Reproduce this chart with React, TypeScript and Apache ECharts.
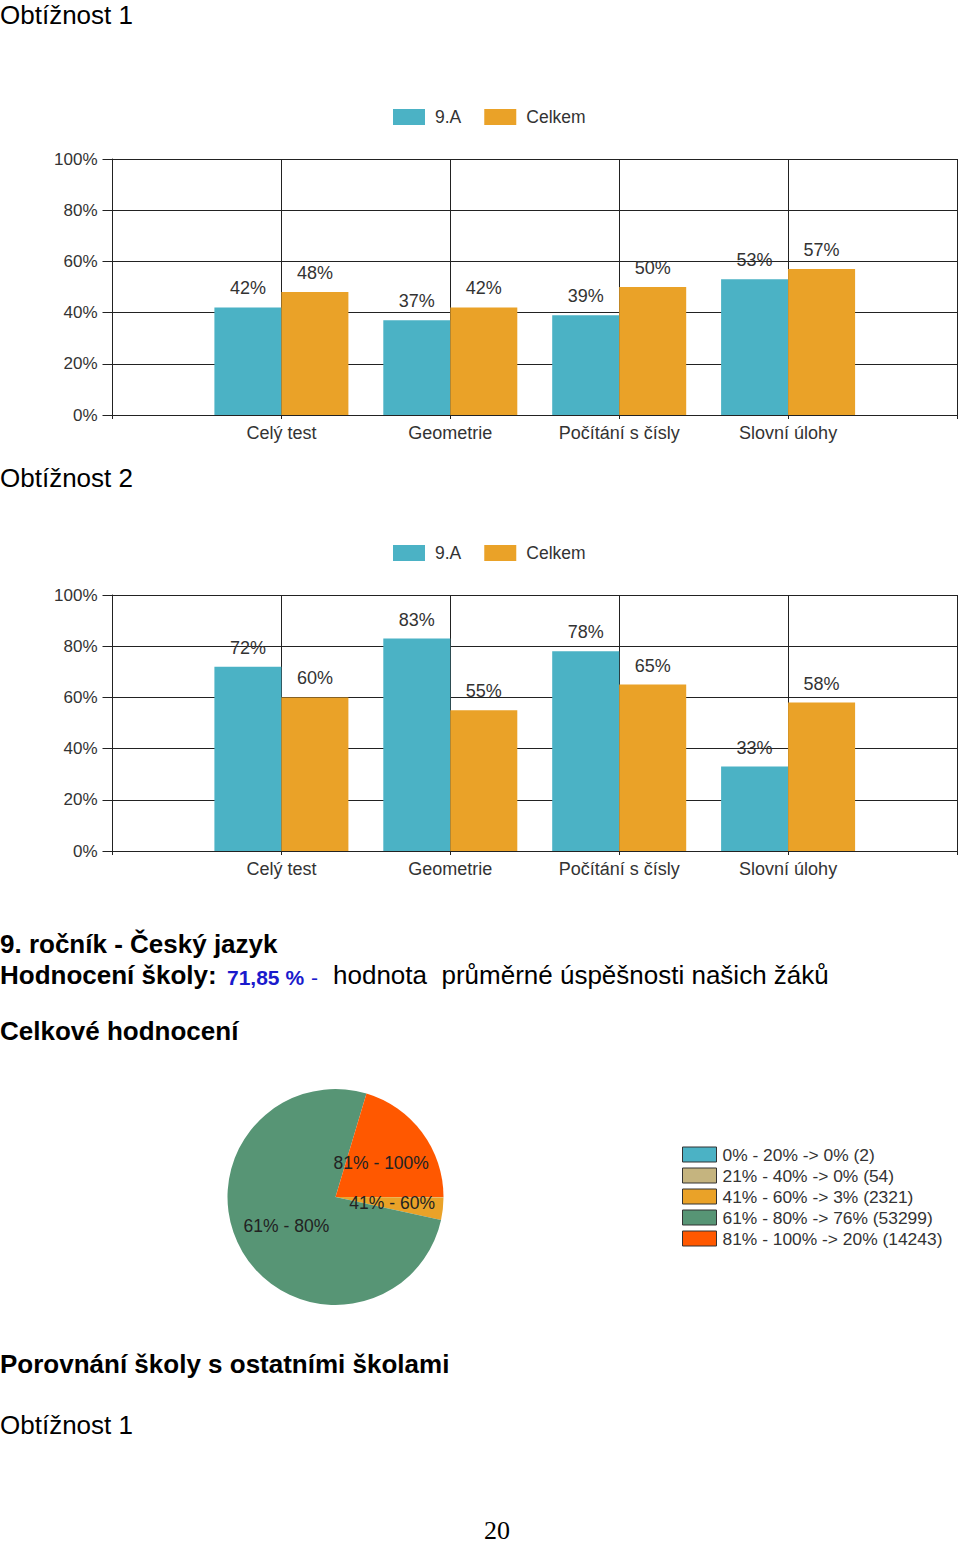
import React, { useEffect, useRef } from "react";
import * as echarts from "echarts";

// ---- data ----
const categories = ["", "Celý test", "Geometrie", "Počítání s čísly", "Slovní úlohy", ""];
const seriesNames = ["9.A", "Celkem"];
const diff1Class = ["-", 42, 37, 39, 53, "-"];
const diff1Total = ["-", 48, 42, 50, 57, "-"];
const diff2Class = ["-", 72, 83, 78, 33, "-"];
const diff2Total = ["-", 60, 55, 65, 58, "-"];
const pieNames = ["0% - 20%", "21% - 40%", "41% - 60%", "61% - 80%", "81% - 100%"];
const pieCounts = [2, 54, 2321, 53299, 14243];
const barColors = ["#4BB2C5", "#EAA228"];
const pieColors = ["#4BB2C5", "#C5B47F", "#EAA228", "#579575", "#FF5800"];
const schoolScore = "71,85 %";

const FONT = "'Liberation Sans', Arial, Helvetica, sans-serif";
const SERIF = "'Liberation Serif', 'Times New Roman', serif";
const LINE = "#222";
const TXT = "#333";

function buildOption() {
  const total = pieCounts.reduce((a, b) => a + b, 0);
  const pct = (v: number) => Math.round((v / total) * 100);
  const gridTops = [159, 595];
  const legendTops = [108, 544];

  const grid = gridTops.map((top) => ({ left: 112.5, top, width: 845, height: 256 }));
  const xAxis = gridTops.map((_, i) => ({
    type: "category",
    gridIndex: i,
    data: categories,
    boundaryGap: false,
    axisLine: { lineStyle: { color: LINE, width: 1 } },
    axisTick: { show: true, length: 4, lineStyle: { color: LINE } },
    axisLabel: { interval: 0, fontSize: 18, color: TXT, margin: 9, fontFamily: FONT },
    splitLine: { show: true, lineStyle: { color: LINE, width: 1 } },
  }));
  const yAxis = gridTops.map((_, i) => ({
    type: "value",
    gridIndex: i,
    min: 0,
    max: 100,
    interval: 20,
    axisLine: { show: true, lineStyle: { color: LINE } },
    axisTick: { show: true, length: 10, lineStyle: { color: LINE } },
    axisLabel: { formatter: "{value}%", fontSize: 17, color: TXT, margin: 15, fontFamily: FONT },
    splitLine: { show: true, lineStyle: { color: LINE, width: 1 } },
  }));

  const bar = (gi: number, idx: number, data: any[]) => ({
    type: "bar",
    name: seriesNames[idx],
    xAxisIndex: gi,
    yAxisIndex: gi,
    data,
    barWidth: 67,
    barGap: "0%",
    itemStyle: { color: barColors[idx] },
    label: {
      show: true,
      position: "top",
      distance: 10,
      formatter: "{c}%",
      fontSize: 18,
      color: TXT,
      fontFamily: FONT,
    },
  });

  const barLegend = (top: number) => ({
    top,
    left: 393,
    padding: 0,
    data: seriesNames,
    icon: "rect",
    itemWidth: 32,
    itemHeight: 16,
    itemGap: 23,
    selectedMode: false,
    textStyle: { fontSize: 17.5, color: TXT, fontFamily: FONT, padding: [0, 0, 0, 5] },
  });

  const heading = (x: number, y: number, text: string, size: number, weight: string, color = "#000", family = FONT, align = "left") => ({
    type: "text",
    x,
    y,
    style: {
      text,
      fontSize: size,
      fontWeight: weight,
      fill: color,
      fontFamily: family,
      align,
      verticalAlign: "middle",
    },
  });

  return {
    animation: false,
    backgroundColor: "#fff",
    grid,
    xAxis,
    yAxis,
    legend: [
      barLegend(legendTops[0]),
      barLegend(legendTops[1]),
      {
        orient: "vertical",
        left: 682,
        top: 1146,
        padding: 0,
        data: pieNames,
        icon: "rect",
        itemWidth: 34,
        itemHeight: 15,
        itemGap: 4,
        selectedMode: false,
        itemStyle: { borderColor: "#333", borderWidth: 1 },
        textStyle: { fontSize: 17.4, color: TXT, fontFamily: FONT, padding: [0, 0, 0, 1] },
        formatter: (name: string) => {
          const i = pieNames.indexOf(name);
          return `${name} -> ${pct(pieCounts[i])}% (${pieCounts[i]})`;
        },
      },
    ],
    series: [
      bar(0, 0, diff1Class),
      bar(0, 1, diff1Total),
      bar(1, 0, diff2Class),
      bar(1, 1, diff2Total),
      {
        type: "pie",
        center: [335.5, 1197],
        radius: 108,
        startAngle: 0,
        clockwise: true,
        avoidLabelOverlap: false,
        silent: true,
        itemStyle: { borderWidth: 0 },
        label: { position: "inner", fontSize: 17.5, color: "#222", fontFamily: FONT, formatter: "{b}" },
        labelLine: { show: false },
        data: pieNames.map((n, i) => ({
          name: n,
          value: pieCounts[i],
          itemStyle: { color: pieColors[i] },
          label: { show: pieCounts[i] / total >= 0.01 },
        })),
      },
    ],
    graphic: [
      heading(0, 15, "Obtížnost 1", 26, "normal"),
      heading(0, 478, "Obtížnost 2", 26, "normal"),
      heading(0, 944, "9. ročník - Český jazyk", 26, "bold"),
      heading(0, 975, "Hodnocení školy:", 26, "bold"),
      heading(227, 977, schoolScore, 21, "bold", "#1a1acc"),
      heading(311, 977, "-", 21, "normal", "#1a1acc"),
      heading(333, 975, "hodnota  průměrné úspěšnosti našich žáků", 26, "normal"),
      heading(0, 1031, "Celkové hodnocení", 26, "bold"),
      heading(0, 1364, "Porovnání školy s ostatními školami", 26, "bold"),
      heading(0, 1425, "Obtížnost 1", 26, "normal"),
      heading(497, 1530, "20", 26, "normal", "#000", SERIF, "center"),
    ],
  };
}

export default function App() {
  const ref = useRef<HTMLDivElement>(null);
  useEffect(() => {
    if (!ref.current) return;
    const chart = echarts.init(ref.current, undefined, { renderer: "svg" });
    chart.setOption(buildOption() as any);
    return () => chart.dispose();
  }, []);
  return (
    <div
      ref={ref}
      style={{ position: "absolute", left: 0, top: 0, width: 960, height: 1545, background: "#fff" }}
    />
  );
}
